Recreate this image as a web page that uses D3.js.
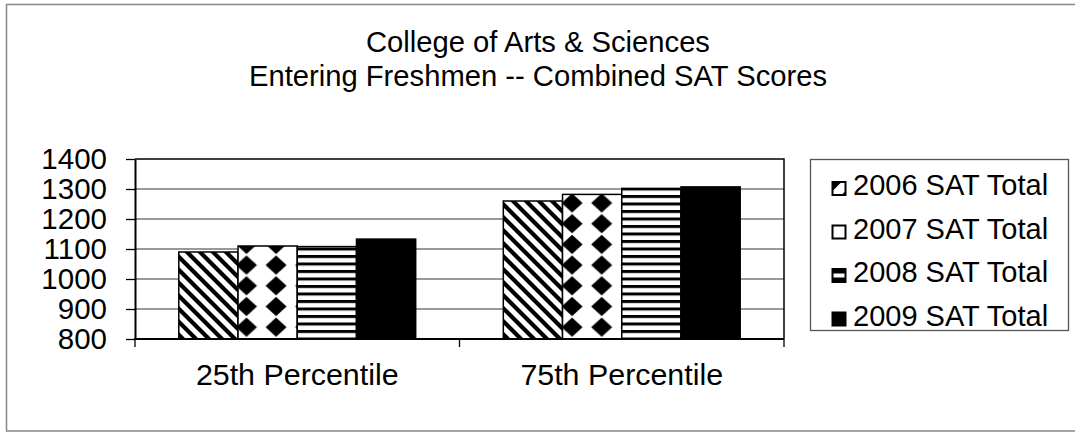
<!DOCTYPE html>
<html>
<head>
<meta charset="utf-8">
<script src="https://cdn.jsdelivr.net/npm/d3@7"></script>
<style>
  body { margin: 0; background: #fff; }
  text { font-family: "Liberation Sans", Arial, sans-serif; fill: #000; }
</style>
</head>
<body>
<div id="chart"></div>
<script>
// Chart data
const categories = ["25th Percentile", "75th Percentile"];
const seriesNames = ["2006 SAT Total", "2007 SAT Total", "2008 SAT Total", "2009 SAT Total"];
const values2006 = [1090, 1260];
const values2007 = [1110, 1282];
const values2008 = [1108, 1302];
const values2009 = [1133, 1307];
const yTicks = [800, 900, 1000, 1100, 1200, 1300, 1400];
const titleLines = ["College of Arts & Sciences", "Entering Freshmen -- Combined SAT Scores"];

const allValues = [values2006, values2007, values2008, values2009];
const fills = ["url(#pat-diag)", "url(#pat-diamond)", "url(#pat-hstripe)", "#000"];

const W = 1075, H = 434;
const plot = {left: 135, top: 159, right: 784, bottom: 339};

const svg = d3.select("#chart").append("svg")
    .attr("width", W)
    .attr("height", H);

// Patterns
const defs = svg.append("defs");

const dp = 13;
const diag = defs.append("pattern")
    .attr("id", "pat-diag")
    .attr("patternUnits", "userSpaceOnUse")
    .attr("width", dp).attr("height", dp);
diag.append("rect").attr("width", dp).attr("height", dp).attr("fill", "#fff");
diag.append("path")
    .attr("d", `M${-dp / 2},${dp / 2} L${dp / 2},${dp * 1.5} M0,0 L${dp},${dp} M${dp / 2},${-dp / 2} L${dp * 1.5},${dp / 2}`)
    .attr("stroke", "#000").attr("stroke-width", 4.2);

// diamonds on a global grid (same grid runs through both 2007 bars)
const dw = 29.6, dh = 20.7;
const diamond = defs.append("pattern")
    .attr("id", "pat-diamond")
    .attr("patternUnits", "userSpaceOnUse")
    .attr("x", 246.5 - dw / 2).attr("y", 203 - dh / 2)
    .attr("width", dw).attr("height", dh);
diamond.append("rect").attr("width", dw).attr("height", dh).attr("fill", "#fff");
diamond.append("path")
    .attr("d", `M${dw / 2},${dh / 2 - 9.6} L${dw / 2 + 10.5},${dh / 2} L${dw / 2},${dh / 2 + 9.6} L${dw / 2 - 10.5},${dh / 2} Z`)
    .attr("fill", "#000");

const hstripe = defs.append("pattern")
    .attr("id", "pat-hstripe")
    .attr("patternUnits", "userSpaceOnUse")
    .attr("width", 10).attr("height", 7.5);
hstripe.append("rect").attr("width", 10).attr("height", 7.5).attr("fill", "#fff");
hstripe.append("rect").attr("y", 0).attr("width", 10).attr("height", 3).attr("fill", "#000");

// Outer frame
svg.append("rect")
    .attr("x", 6.5).attr("y", 4.5)
    .attr("width", W).attr("height", 426.5)
    .attr("fill", "none")
    .attr("stroke", "#888").attr("stroke-width", 1.5);

// Title
svg.append("g").selectAll("text")
    .data(titleLines)
    .enter().append("text")
    .attr("x", 538)
    .attr("y", (d, i) => 52 + i * 34)
    .attr("text-anchor", "middle")
    .style("font-size", "29.2px")
    .text(d => d);

// Scales
const x0 = d3.scaleBand()
    .domain(categories)
    .range([plot.left, plot.right])
    .paddingInner(0.27)
    .paddingOuter(0.135);

const x1 = d3.scaleBand()
    .domain(seriesNames)
    .range([0, x0.bandwidth()]);

const y = d3.scaleLinear()
    .domain([800, 1400])
    .range([plot.bottom, plot.top]);

// Gridlines
svg.append("g")
    .selectAll("line")
    .data(yTicks.slice(1, -1))
    .enter().append("line")
    .attr("x1", plot.left).attr("x2", plot.right)
    .attr("y1", d => y(d)).attr("y2", d => y(d))
    .attr("stroke", "#777").attr("stroke-width", 1.4);

// Bars (pattern fills use page coordinates, so bars are placed in page space)
const barData = [];
categories.forEach((c, ci) => {
    seriesNames.forEach((s, si) => {
        barData.push({cat: c, series: s, index: si, value: allValues[si][ci]});
    });
});

svg.append("g")
    .selectAll("rect")
    .data(barData)
    .enter().append("rect")
    .attr("x", d => x0(d.cat) + x1(d.series))
    .attr("y", d => y(d.value))
    .attr("width", x1.bandwidth())
    .attr("height", d => y(800) - y(d.value))
    .attr("fill", d => fills[d.index])
    .attr("stroke", "#000")
    .attr("stroke-width", 1.5);

// Plot border (top and right)
svg.append("path")
    .attr("d", `M${plot.left},${plot.top} H${plot.right} V${plot.bottom}`)
    .attr("fill", "none")
    .attr("stroke", "#000").attr("stroke-width", 1.5);

// Y axis
const yAxis = svg.append("g")
    .attr("transform", `translate(${plot.left},0)`)
    .call(d3.axisLeft(y).tickValues(yTicks).tickFormat(d3.format("d"))
        .tickSize(9).tickSizeOuter(0).tickPadding(19));
yAxis.attr("font-family", null).attr("font-size", null);
yAxis.select(".domain").attr("stroke-width", 2);
yAxis.selectAll(".tick line").attr("stroke-width", 1.3);
yAxis.selectAll(".tick text")
    .style("font-size", "29.5px")
    .attr("dy", "0.33em");

// X axis
const xAxis = svg.append("g")
    .attr("transform", `translate(0,${plot.bottom})`);
xAxis.append("line")
    .attr("x1", plot.left - 1).attr("x2", plot.right)
    .attr("stroke", "#000").attr("stroke-width", 2);
xAxis.selectAll(".xtick")
    .data([plot.left, x0.step() + plot.left, plot.right])
    .enter().append("line")
    .attr("x1", d => d).attr("x2", d => d)
    .attr("y1", 0).attr("y2", 8)
    .attr("stroke", "#000").attr("stroke-width", 1.3);
xAxis.selectAll("text")
    .data(categories)
    .enter().append("text")
    .attr("x", d => x0(d) + x0.bandwidth() / 2)
    .attr("y", 46)
    .attr("text-anchor", "middle")
    .style("font-size", "30.4px")
    .text(d => d);

// Legend
const legend = svg.append("g");
legend.append("rect")
    .attr("x", 810.5).attr("y", 159.5)
    .attr("width", 258).attr("height", 171)
    .attr("fill", "#fff")
    .attr("stroke", "#555").attr("stroke-width", 1.3);

const items = legend.selectAll(".item")
    .data(seriesNames)
    .enter().append("g")
    .attr("transform", (d, i) => `translate(832.5,${195 + i * 43.5})`);

// small swatches, drawn the way the reduced patterns look
items.append("rect")
    .attr("x", 0).attr("y", -13)
    .attr("width", 13).attr("height", 13)
    .attr("fill", (d, i) => i === 3 ? "#000" : "#fff")
    .attr("stroke", "#000").attr("stroke-width", 2);
items.filter((d, i) => i === 0).append("path")
    .attr("d", "M0,-13 H9 L0,-4 Z M13,-4 V0 H9 Z")
    .attr("fill", "#000");
items.filter((d, i) => i === 2).append("rect")
    .attr("x", 0).attr("y", -13).attr("width", 13).attr("height", 4.5)
    .attr("fill", "#000");
items.filter((d, i) => i === 2).append("rect")
    .attr("x", 0).attr("y", -4.5).attr("width", 13).attr("height", 4.5)
    .attr("fill", "#000");
items.append("text")
    .attr("x", 20.5)
    .attr("y", 0)
    .style("font-size", "29px")
    .text(d => d);
</script>
</body>
</html>
